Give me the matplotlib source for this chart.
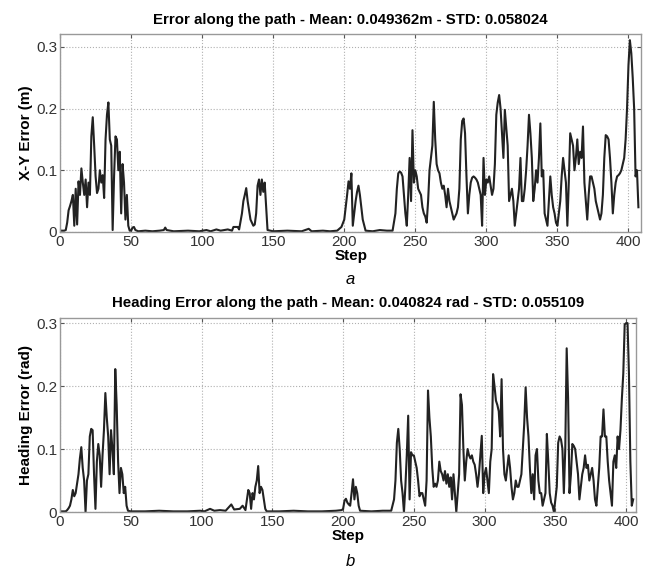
import numpy as np
import matplotlib.pyplot as plt

plt.rcParams['font.family'] = ['Liberation Sans', 'DejaVu Sans']

# ---------------------------------
# (a) X-Y error along the path
# ---------------------------------
xy_steps = [1, 3, 4, 5, 6, 7, 8, 9, 10, 11, 12, 13, 14, 15, 16, 17, 18, 19, 20,
            21, 22, 23, 24, 25, 26, 27, 28, 29, 30, 31, 32, 33, 34, 35, 36, 37, 38,
            39, 40, 41, 42, 43, 44, 45, 46, 47, 48, 49, 50, 51, 52, 53, 55, 60, 65,
            70, 73, 74, 75, 80, 90, 98, 103, 106, 110, 113, 118, 121, 122, 125, 126,
            128, 129, 130, 131, 132, 133, 134, 136, 137, 138, 139, 140, 141, 142, 143,
            144, 145, 146, 150, 160, 170, 175, 177, 185, 190, 195, 198, 200, 202, 203,
            204, 205, 206, 207, 208, 209, 210, 211, 212, 213, 215, 220, 225, 230, 234,
            236, 237, 238, 239, 240, 241, 242, 243, 244, 245, 246, 247, 248, 249, 250,
            251, 252, 253, 254, 255, 256, 257, 258, 259, 260, 261, 262, 263, 264, 265,
            266, 267, 268, 269, 270, 271, 272, 273, 274, 275, 276, 277, 278, 279, 280,
            281, 282, 283, 284, 285, 286, 287, 288, 289, 290, 291, 292, 293, 294, 295,
            296, 297, 298, 299, 300, 301, 302, 303, 304, 305, 306, 307, 308, 309, 310,
            311, 312, 313, 314, 315, 316, 317, 318, 319, 320, 321, 322, 323, 324, 325,
            326, 327, 328, 329, 330, 331, 332, 333, 334, 335, 336, 337, 338, 339, 340,
            341, 342, 343, 344, 345, 346, 347, 348, 349, 350, 351, 352, 353, 354, 355,
            356, 357, 358, 359, 360, 361, 362, 363, 364, 365, 366, 367, 368, 369, 370,
            371, 372, 373, 374, 375, 376, 377, 378, 379, 380, 381, 382, 383, 384, 385,
            386, 387, 388, 389, 390, 391, 392, 393, 394, 395, 396, 397, 398, 399, 400,
            401, 402, 403, 404, 405, 406, 407]
xy_err = [0.002, 0.002, 0.003, 0.015, 0.035, 0.042, 0.05, 0.06, 0.01, 0.07, 0.012,
          0.082, 0.06, 0.103, 0.08, 0.06, 0.085, 0.04, 0.08, 0.06, 0.155, 0.186, 0.14,
          0.09, 0.063, 0.07, 0.1, 0.08, 0.092, 0.055, 0.15, 0.19, 0.21, 0.15, 0.14,
          0.003, 0.09, 0.155, 0.15, 0.10, 0.13, 0.03, 0.11, 0.08, 0.02, 0.06, 0.01,
          0.002, 0.002, 0.007, 0.008, 0.003, 0.001, 0.002, 0.001, 0.002, 0.003, 0.007,
          0.003, 0.001, 0.002, 0.001, 0.003, 0.001, 0.004, 0.002, 0.004, 0.002, 0.008,
          0.008, 0.004, 0.03, 0.05, 0.06, 0.071, 0.05, 0.035, 0.02, 0.01, 0.012, 0.03,
          0.075, 0.085, 0.06, 0.085, 0.065, 0.08, 0.04, 0.003, 0.001, 0.002, 0.001,
          0.005, 0.001, 0.002, 0.001, 0.002, 0.008, 0.02, 0.06, 0.082, 0.07, 0.095,
          0.01, 0.03, 0.05, 0.065, 0.075, 0.06, 0.04, 0.02, 0.002, 0.001, 0.003, 0.002,
          0.002, 0.03, 0.07, 0.095, 0.098, 0.096, 0.09, 0.06, 0.03, 0.01, 0.06, 0.12,
          0.05, 0.165, 0.08, 0.1, 0.09, 0.07, 0.065, 0.06, 0.04, 0.03, 0.025, 0.015,
          0.05, 0.1, 0.12, 0.14, 0.211, 0.15, 0.11, 0.1, 0.095, 0.08, 0.07, 0.075,
          0.06, 0.04, 0.07, 0.05, 0.04, 0.03, 0.02, 0.025, 0.03, 0.04, 0.07, 0.15,
          0.18, 0.184, 0.16, 0.09, 0.03, 0.06, 0.08, 0.088, 0.09, 0.088, 0.085, 0.08,
          0.07, 0.06, 0.01, 0.12, 0.06, 0.085, 0.08, 0.09, 0.075, 0.06, 0.07, 0.11,
          0.19, 0.21, 0.222, 0.2, 0.16, 0.12, 0.198, 0.17, 0.14, 0.05, 0.06, 0.07,
          0.05, 0.01, 0.03, 0.05, 0.07, 0.12, 0.05, 0.05, 0.07, 0.1, 0.14, 0.19, 0.16,
          0.12, 0.05, 0.07, 0.1, 0.08, 0.12, 0.176, 0.09, 0.10, 0.03, 0.02, 0.01, 0.05,
          0.09, 0.06, 0.04, 0.03, 0.015, 0.01, 0.03, 0.05, 0.09, 0.12, 0.1, 0.08, 0.01,
          0.08, 0.16, 0.15, 0.14, 0.10, 0.12, 0.15, 0.11, 0.13, 0.12, 0.171, 0.08,
          0.05, 0.02, 0.06, 0.09, 0.09, 0.08, 0.07, 0.05, 0.04, 0.03, 0.02, 0.03, 0.06,
          0.12, 0.157, 0.155, 0.15, 0.12, 0.08, 0.03, 0.06, 0.08, 0.09, 0.092, 0.095,
          0.1, 0.11, 0.12, 0.15, 0.2, 0.27, 0.311, 0.29, 0.25, 0.2, 0.09, 0.10, 0.04]

# ---------------------------------
# (b) Heading error along the path
# ---------------------------------
hd_steps = [1, 4, 5, 6, 7, 8, 9, 10, 11, 12, 13, 14, 15, 16, 17, 18, 19, 20, 21, 22,
            23, 24, 25, 26, 27, 28, 29, 30, 31, 32, 33, 34, 35, 36, 37, 38, 39, 40,
            41, 42, 43, 44, 45, 46, 47, 48, 50, 60, 70, 80, 90, 99, 102, 106, 109, 113,
            117, 121, 123, 127, 129, 131, 133, 134, 135, 136, 137, 138, 139, 140, 141,
            142, 143, 144, 145, 146, 155, 165, 175, 185, 195, 199, 200, 201, 202, 203,
            204, 205, 206, 207, 208, 209, 210, 211, 212, 220, 228, 234, 236, 237, 238,
            239, 240, 241, 242, 243, 244, 245, 246, 247, 248, 249, 250, 251, 252, 253,
            254, 255, 256, 257, 258, 259, 260, 261, 262, 263, 264, 265, 266, 267, 268,
            269, 270, 271, 272, 273, 274, 275, 276, 277, 278, 279, 280, 281, 282, 283,
            284, 285, 286, 287, 288, 289, 290, 291, 292, 293, 294, 295, 296, 297, 298,
            299, 300, 301, 302, 303, 304, 305, 306, 307, 308, 309, 310, 311, 312, 313,
            314, 315, 316, 317, 318, 319, 320, 321, 322, 323, 324, 325, 326, 327, 328,
            329, 330, 331, 332, 333, 334, 335, 336, 337, 338, 339, 340, 341, 342, 343,
            344, 345, 346, 347, 348, 349, 350, 351, 352, 353, 354, 355, 356, 357, 358,
            359, 360, 361, 362, 363, 364, 365, 366, 367, 368, 369, 370, 371, 372, 373,
            374, 375, 376, 377, 378, 379, 380, 381, 382, 383, 384, 385, 386, 387, 388,
            389, 390, 391, 392, 393, 394, 395, 396, 397, 398, 399, 400, 401, 402, 403,
            404, 405]
hd_err = [0.001, 0.001, 0.003, 0.006, 0.01, 0.02, 0.035, 0.025, 0.03, 0.045, 0.06,
          0.085, 0.103, 0.07, 0.05, 0.0, 0.05, 0.06, 0.12, 0.132, 0.13, 0.06, 0.005,
          0.08, 0.108, 0.09, 0.04, 0.09, 0.13, 0.189, 0.15, 0.12, 0.06, 0.13, 0.10,
          0.06, 0.227, 0.17, 0.08, 0.03, 0.07, 0.06, 0.03, 0.04, 0.01, 0.002, 0.001,
          0.001, 0.002, 0.001, 0.001, 0.002, 0.001, 0.005, 0.002, 0.003, 0.002, 0.012,
          0.004, 0.005, 0.01, 0.003, 0.035, 0.03, 0.005, 0.03, 0.02, 0.04, 0.05, 0.073,
          0.03, 0.04, 0.035, 0.02, 0.005, 0.001, 0.001, 0.002, 0.001, 0.001, 0.002,
          0.003, 0.005, 0.018, 0.021, 0.015, 0.012, 0.01, 0.03, 0.052, 0.02, 0.04,
          0.03, 0.01, 0.002, 0.001, 0.002, 0.002, 0.02, 0.05, 0.11, 0.132, 0.10, 0.05,
          0.03, 0.0, 0.04, 0.09, 0.153, 0.02, 0.095, 0.09, 0.09, 0.08, 0.07, 0.05,
          0.025, 0.03, 0.03, 0.02, 0.01, 0.05, 0.193, 0.15, 0.12, 0.07, 0.04, 0.045,
          0.04, 0.05, 0.08, 0.065, 0.06, 0.05, 0.065, 0.045, 0.06, 0.04, 0.055, 0.02,
          0.06, 0.03, 0.0, 0.03, 0.06, 0.187, 0.17, 0.1, 0.05, 0.08, 0.1, 0.09, 0.085,
          0.09, 0.08, 0.075, 0.06, 0.04, 0.06, 0.09, 0.121, 0.03, 0.06, 0.07, 0.05,
          0.03, 0.08, 0.1, 0.219, 0.2, 0.177, 0.17, 0.16, 0.12, 0.211, 0.1, 0.06, 0.05,
          0.07, 0.09, 0.07, 0.04, 0.02, 0.03, 0.05, 0.04, 0.04, 0.05, 0.06, 0.1, 0.14,
          0.198, 0.15, 0.12, 0.07, 0.03, 0.06, 0.02, 0.09, 0.10, 0.05, 0.03, 0.03,
          0.01, 0.02, 0.03, 0.124, 0.08, 0.03, 0.015, 0.01, 0.0, 0.02, 0.04, 0.11,
          0.12, 0.115, 0.1, 0.03, 0.1, 0.26, 0.18, 0.03, 0.06, 0.108, 0.105, 0.10,
          0.08, 0.06, 0.02, 0.04, 0.06, 0.07, 0.09, 0.07, 0.075, 0.05, 0.06, 0.07,
          0.05, 0.02, 0.01, 0.04, 0.07, 0.12, 0.12, 0.163, 0.12, 0.12, 0.08, 0.05,
          0.03, 0.01, 0.08, 0.09, 0.07, 0.12, 0.1, 0.13, 0.18, 0.22, 0.298, 0.3, 0.3,
          0.22, 0.08, 0.01, 0.02]

x_ticks = [0, 50, 100, 150, 200, 250, 300, 350, 400]
y_ticks = [0, 0.1, 0.2, 0.3]
y_tick_labels = ['0', '0.1', '0.2', '0.3']

fig = plt.figure(figsize=(6.53, 5.67), dpi=100)
ax1 = fig.add_axes([0.092, 0.591, 0.890, 0.349])
ax2 = fig.add_axes([0.092, 0.097, 0.882, 0.342])


def style_axes(ax, ymax, xmax):
    ax.set_xlim(0, xmax)
    ax.set_ylim(0, ymax)
    ax.set_xticks(x_ticks)
    ax.set_yticks(y_ticks)
    ax.set_yticklabels(y_tick_labels)
    ax.grid(True, linestyle=':', color='#b0b0b0', linewidth=0.8)
    ax.tick_params(direction='in', top=True, right=True, length=3,
                   labelsize=11, colors='#555555', labelcolor='#333333', pad=2)
    for sp in ax.spines.values():
        sp.set_color('#999999')
        sp.set_linewidth(1.0)


ax1.plot(xy_steps, xy_err, color='#222222', linewidth=1.5)
style_axes(ax1, 0.321, 409)
ax1.set_title('Error along the path - Mean: 0.049362m - STD: 0.058024',
              fontsize=10.8, fontweight='bold', pad=7)
ax1.set_ylabel('X-Y Error (m)', fontsize=11, fontweight='bold', labelpad=2)
ax1.set_xlabel('Step', fontsize=11, fontweight='bold', labelpad=0)

ax2.plot(hd_steps, hd_err, color='#222222', linewidth=1.5)
style_axes(ax2, 0.308, 407)
ax2.set_title('Heading Error along the path - Mean: 0.040824 rad - STD: 0.055109',
              fontsize=10.8, fontweight='bold', pad=8)
ax2.set_ylabel('Heading Error (rad)', fontsize=11, fontweight='bold', labelpad=2)
ax2.set_xlabel('Step', fontsize=11, fontweight='bold', labelpad=0)

fig.text(0.537, 1 - 279 / 567, 'a', fontsize=12, style='italic', ha='center', va='center')
fig.text(0.537, 1 - 561 / 567, 'b', fontsize=12, style='italic', ha='center', va='center')

fig.savefig('out.png', dpi=100)
